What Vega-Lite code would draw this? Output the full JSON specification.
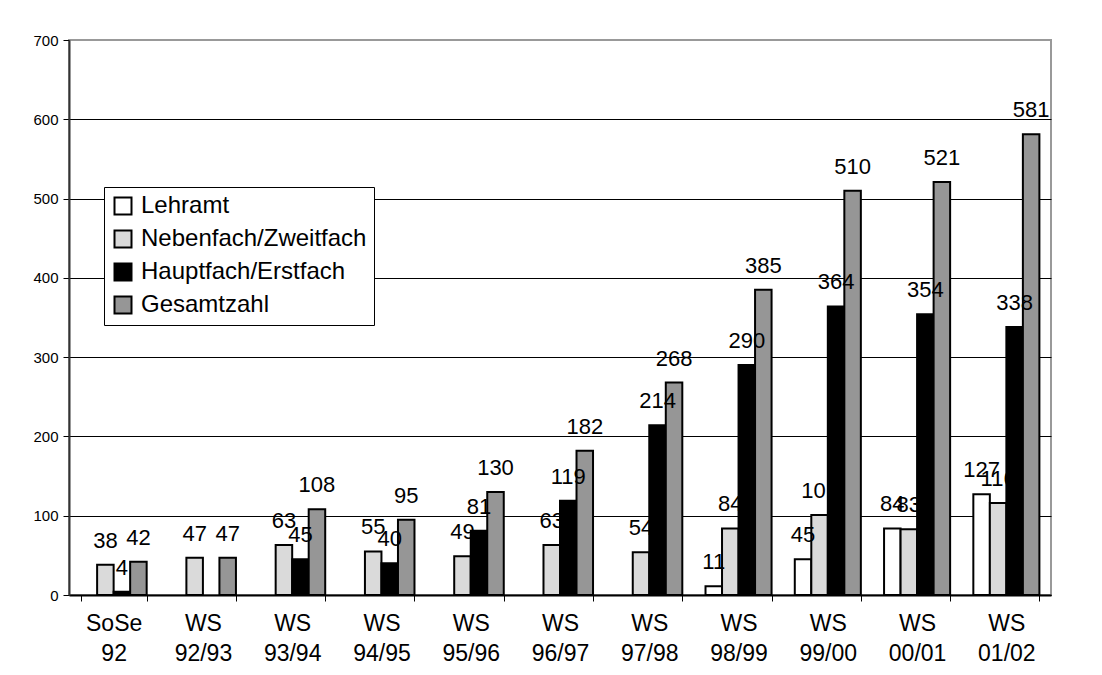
{
  "$schema": "https://vega.github.io/schema/vega-lite/v6.json",
  "width": 982,
  "height": 555,
  "autosize": {"type": "none"},
  "padding": {"left": 69, "top": 40, "right": 51, "bottom": 80},
  "background": "white",
  "config": {
    "font": "Liberation Sans",
    "view": {"stroke": "#999999", "strokeWidth": 2}
  },
  "data": {
    "values": [
      {"semester": "SoSe 92", "series": "Nebenfach/Zweitfach", "value": 38},
      {"semester": "SoSe 92", "series": "Hauptfach/Erstfach", "value": 4},
      {"semester": "SoSe 92", "series": "Gesamtzahl", "value": 42},
      {"semester": "WS 92/93", "series": "Nebenfach/Zweitfach", "value": 47},
      {"semester": "WS 92/93", "series": "Gesamtzahl", "value": 47},
      {"semester": "WS 93/94", "series": "Nebenfach/Zweitfach", "value": 63},
      {"semester": "WS 93/94", "series": "Hauptfach/Erstfach", "value": 45},
      {"semester": "WS 93/94", "series": "Gesamtzahl", "value": 108},
      {"semester": "WS 94/95", "series": "Nebenfach/Zweitfach", "value": 55},
      {"semester": "WS 94/95", "series": "Hauptfach/Erstfach", "value": 40},
      {"semester": "WS 94/95", "series": "Gesamtzahl", "value": 95},
      {"semester": "WS 95/96", "series": "Nebenfach/Zweitfach", "value": 49},
      {"semester": "WS 95/96", "series": "Hauptfach/Erstfach", "value": 81},
      {"semester": "WS 95/96", "series": "Gesamtzahl", "value": 130},
      {"semester": "WS 96/97", "series": "Nebenfach/Zweitfach", "value": 63},
      {"semester": "WS 96/97", "series": "Hauptfach/Erstfach", "value": 119},
      {"semester": "WS 96/97", "series": "Gesamtzahl", "value": 182},
      {"semester": "WS 97/98", "series": "Nebenfach/Zweitfach", "value": 54},
      {"semester": "WS 97/98", "series": "Hauptfach/Erstfach", "value": 214},
      {"semester": "WS 97/98", "series": "Gesamtzahl", "value": 268},
      {"semester": "WS 98/99", "series": "Lehramt", "value": 11},
      {"semester": "WS 98/99", "series": "Nebenfach/Zweitfach", "value": 84},
      {"semester": "WS 98/99", "series": "Hauptfach/Erstfach", "value": 290},
      {"semester": "WS 98/99", "series": "Gesamtzahl", "value": 385},
      {"semester": "WS 99/00", "series": "Lehramt", "value": 45},
      {"semester": "WS 99/00", "series": "Nebenfach/Zweitfach", "value": 101},
      {"semester": "WS 99/00", "series": "Hauptfach/Erstfach", "value": 364},
      {"semester": "WS 99/00", "series": "Gesamtzahl", "value": 510},
      {"semester": "WS 00/01", "series": "Lehramt", "value": 84},
      {"semester": "WS 00/01", "series": "Nebenfach/Zweitfach", "value": 83},
      {"semester": "WS 00/01", "series": "Hauptfach/Erstfach", "value": 354},
      {"semester": "WS 00/01", "series": "Gesamtzahl", "value": 521},
      {"semester": "WS 01/02", "series": "Lehramt", "value": 127},
      {"semester": "WS 01/02", "series": "Nebenfach/Zweitfach", "value": 116},
      {"semester": "WS 01/02", "series": "Hauptfach/Erstfach", "value": 338},
      {"semester": "WS 01/02", "series": "Gesamtzahl", "value": 581}
    ]
  },
  "encoding": {
    "x": {
      "field": "semester",
      "type": "nominal",
      "sort": null,
      "scale": {"paddingInner": 0.26, "paddingOuter": 0.13},
      "axis": {
        "title": null,
        "labelAngle": 0,
        "labelExpr": "split(datum.label, ' ')",
        "labelFontSize": 23,
        "labelLineHeight": 30,
        "labelPadding": 11,
        "labelColor": "black",
        "tickBand": "extent",
        "tickSize": 6,
        "tickColor": "black",
        "domainColor": "black",
        "domainWidth": 2
      }
    },
    "xOffset": {
      "field": "series",
      "type": "nominal",
      "scale": {
        "domain": ["Lehramt", "Nebenfach/Zweitfach", "Hauptfach/Erstfach", "Gesamtzahl"],
        "paddingInner": 0,
        "paddingOuter": 0
      }
    },
    "y": {
      "field": "value",
      "type": "quantitative",
      "scale": {"domain": [0, 700]},
      "axis": {
        "title": null,
        "values": [0, 100, 200, 300, 400, 500, 600, 700],
        "grid": true,
        "gridColor": {"condition": {"test": "datum.value === 700", "value": "#999999"}, "value": "black"},
        "gridWidth": 1,
        "domainColor": "#333333",
        "domainWidth": 2,
        "tickColor": "black",
        "tickSize": 6,
        "labelFontSize": 15,
        "labelPadding": 5,
        "labelColor": "black"
      }
    }
  },
  "layer": [
    {
      "mark": {"type": "bar", "stroke": "black", "strokeWidth": 2},
      "encoding": {
        "fill": {
          "field": "series",
          "type": "nominal",
          "scale": {
            "domain": ["Lehramt", "Nebenfach/Zweitfach", "Hauptfach/Erstfach", "Gesamtzahl"],
            "range": ["#ffffff", "#dadada", "#000000", "#969696"]
          },
          "legend": {
            "title": null,
            "orient": "none",
            "legendX": 35,
            "legendY": 147,
            "fillColor": "white",
            "strokeColor": "black",
            "padding": 7,
            "symbolType": "square",
            "symbolSize": 289,
            "symbolStrokeColor": "black",
            "symbolStrokeWidth": 2,
            "labelFontSize": 24,
            "labelColor": "black",
            "labelOffset": 6,
            "rowPadding": 7,
            "labelLimit": 400
          }
        }
      }
    },
    {
      "mark": {"type": "text", "baseline": "alphabetic", "dy": -17, "fontSize": 22, "color": "black"},
      "encoding": {"text": {"field": "value", "type": "quantitative"}}
    }
  ]
}
